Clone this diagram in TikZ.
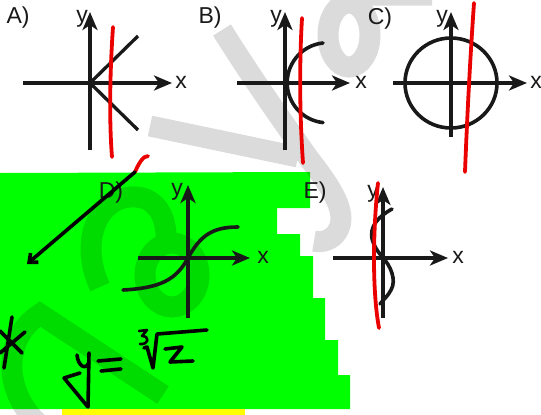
\documentclass[tikz,border=0pt]{standalone}
\usepackage{fontspec}
\setmainfont{Liberation Sans}
\usetikzlibrary{arrows.meta}
\definecolor{hlgreen}{RGB}{0,255,0}
\definecolor{hlyellow}{RGB}{255,255,0}
\definecolor{pen}{RGB}{235,0,0}
\definecolor{ink}{RGB}{25,25,25}
\begin{document}
\begin{tikzpicture}[x=1pt,y=-1pt,
  axis/.style={ink,line width=3.3pt,-{Stealth[length=18pt,width=15pt,inset=5pt]}},
  plain/.style={ink,line width=3.3pt},
  curve/.style={ink,line width=3.6pt,line cap=round},
  marker/.style={pen,line width=3.8pt,line cap=round},
  wm/.style={black,draw opacity=0.14,line width=21pt},
  lbl/.style={font=\fontsize{23}{23}\selectfont,inner sep=0pt,text=ink},
  hand/.style={black,line width=3.6pt,line cap=round,line join=round}]
\useasboundingbox (0,0) rectangle (541,415);
\fill[white] (0,0) rectangle (541,415);
% highlights
\fill[hlgreen] (0,173) -- (310,172) -- (310,208) -- (277,208) -- (277,234) -- (300,234)
  -- (300,256) -- (313,256) -- (313,298) -- (325,298) -- (325,340) -- (338,340)
  -- (338,375) -- (350,375) -- (350,409) -- (0,409) -- cycle;
\fill[hlyellow] (62,409) rectangle (245,415);
% watermark
\draw[wm] (222,30) .. controls (250,75) and (285,125) .. (310,160)
  .. controls (335,192) and (348,215) .. (337,232) .. controls (332,240) and (322,243) .. (314,241)
  (150,126) -- (298,157)
  (349,35) ellipse [x radius=21, y radius=32]
  (352,-5) -- (432,-5)
  (100,287) .. controls (80,245) and (95,200) .. (130,197) .. controls (155,195) and (168,215) .. (166,245)
  (172,275) ellipse [x radius=27, y radius=32]
  (40,425) .. controls (5,395) and (0,340) .. (40,314) -- (163,395);
% A
\draw[axis] (90,150) -- (90,12);
\draw[axis] (23,83) -- (172,83);
\draw[plain] (138,36) -- (90,83) -- (138,130);
\node[lbl] (la) at (18,18) {A)};
\node[lbl] (ya) at (82,19) {y};
\node[lbl] (xa) at (181,82) {x};
% B
\draw[axis] (285,150) -- (285,12);
\draw[axis] (237,83) -- (350,83);
\draw[curve] (323,43) arc[start angle=264, end angle=96, radius=40];
\node[lbl] (lb) at (210,18) {B)};
\node[lbl] (yb) at (276,19) {y};
\node[lbl] (xb) at (361,82) {x};
% C
\draw[axis] (451,137) -- (451,12);
\draw[axis] (393,83) -- (527,83);
\draw[curve] (451,83) ellipse [x radius=46, y radius=45];
\node[lbl] (lc) at (380,19) {C)};
\node[lbl] (yc) at (442,19) {y};
\node[lbl] (xc) at (536,82) {x};
% D
\draw[axis] (188,318) -- (188,185);
\draw[axis] (138,258) -- (250,258);
\draw[curve] (123,290) .. controls (160,288) and (176,280) .. (188,258)
  .. controls (200,236) and (212,227) .. (238,227);
\node[lbl] (ld) at (111,193) {D)};
\node[lbl] (yd) at (177,192) {y};
\node[lbl] (xd) at (263,257) {x};
% E
\draw[axis] (383,318) -- (383,187);
\draw[axis] (333,258) -- (448,258);
\draw[curve] (392,209) .. controls (381,215) and (367,226) .. (373,242)
  .. controls (376,250) and (380,254) .. (383,258)
  .. controls (390,265) and (397,280) .. (391,290)
  .. controls (388,296) and (383,300) .. (380,304);
\node[lbl] (le) at (315,193) {E)};
\node[lbl] (ye) at (373,194) {y};
\node[lbl] (xe) at (458,257) {x};
% red marks
\draw[marker] (113,27) .. controls (110,70) and (109,120) .. (112,157);
\draw[marker] (302,18) .. controls (299,70) and (300,120) .. (303,163);
\draw[marker] (474,3) .. controls (470,60) and (467,120) .. (465,172);
\draw[marker] (378,183) .. controls (373,230) and (372,290) .. (379,328);
\coordinate (hs) at (148,156);
\coordinate (hm) at (135,172);
\coordinate (ht) at (27,264);
\draw[marker] (hs) .. controls (143,156) and (139,163) .. (hm);
% hand arrow
\draw[hand,-{Straight Barb[length=7pt,width=12pt]}] (hm) -- (ht);
% asterisk
\draw[hand] (12,317) -- (4,368) (25,332) -- (0,353) (0,331) -- (22,353);
% y =
\draw[hand] (77,355) .. controls (78,366) and (86,371) .. (89,362);
\draw[hand] (89,353) -- (88,407) -- (64,378) -- (80,373);
\draw[hand] (98,361) -- (121,359) (101,371) -- (121,369);
% cube root
\draw[hand,line width=2.6pt] (139,331) -- (147,330) -- (142,336) .. controls (150,336) and (149,345) .. (140,344);
\draw[hand] (144,348) -- (147,347) -- (153,368) -- (157,334) -- (207,330);
\draw[hand] (165,349) -- (182,347) -- (170,362) -- (193,361);
\end{tikzpicture}
\end{document}
